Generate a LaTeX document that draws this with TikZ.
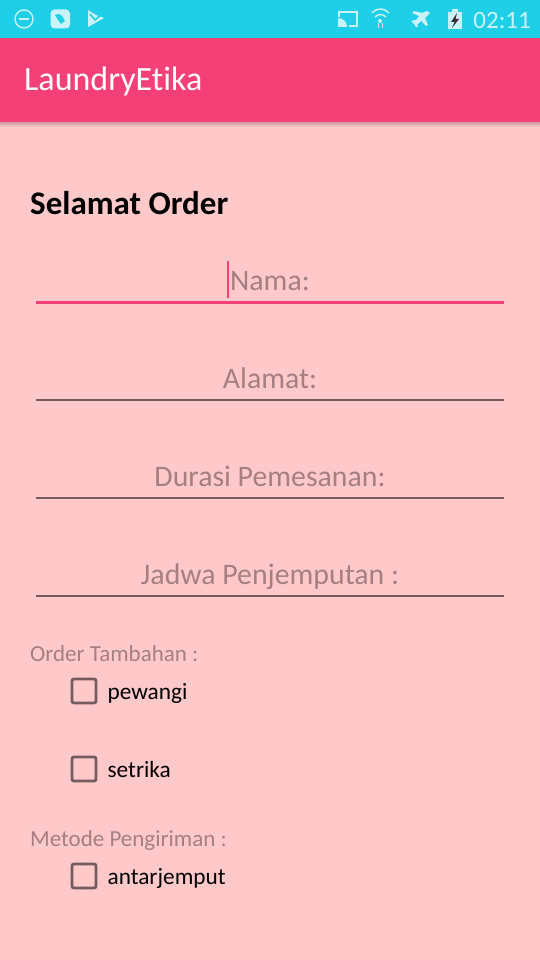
\documentclass[tikz,border=0pt]{standalone}
\usepackage{fontspec}
\setmainfont[Ligatures=NoCommon]{Carlito}
\usetikzlibrary{positioning}
\definecolor{bgpink}{HTML}{FFC9C9}
\definecolor{barcyan}{HTML}{1FCFE8}
\definecolor{barpink}{HTML}{F43F77}
\definecolor{hintgrey}{HTML}{A67F82}
\definecolor{linegrey}{HTML}{755C5E}
\definecolor{iconwhite}{HTML}{C8F3FA}
\tikzstyle{title} = [anchor=west, inner sep=0pt, text=white, font=\fontsize{34}{34}\selectfont]
\tikzstyle{heading} = [anchor=west, inner sep=0pt, text=black, font=\bfseries\fontsize{33}{33}\selectfont]
\tikzstyle{field} = [minimum width=468pt, minimum height=40pt, inner sep=0pt, text height=22pt, text depth=6pt, text=hintgrey, font=\fontsize{29.8}{29.8}\selectfont]
\tikzstyle{caption} = [anchor=west, inner sep=0pt, text height=15pt, text depth=1pt, text=hintgrey, font=\fontsize{23}{23}\selectfont]
\tikzstyle{tick} = [rectangle, rounded corners=2pt, minimum size=24pt, inner sep=0pt, draw=linegrey, line width=2.8pt]
\tikzstyle{choice} = [right=10pt of #1, inner sep=0pt, text height=18pt, text depth=1pt, text=black, font=\fontsize{23.3}{23.3}\selectfont]
\tikzstyle{underline} = [draw=linegrey, line width=1.5pt]
\begin{document}
\begin{tikzpicture}[x=1pt, y=-1pt, node distance=98pt]

\fill[bgpink] (0,0) rectangle (540,960);
\useasboundingbox (0,0) rectangle (540,960);
\fill[barcyan] (0,0) rectangle (540,38);
\shade[top color=black!22!bgpink, bottom color=bgpink] (0,122) rectangle (540,127);
\fill[barpink] (0,38) rectangle (540,122);

% status bar icons
\draw[iconwhite, line width=1.4pt] (24,19) circle (9);
\draw[iconwhite, line width=1.6pt] (19,19) -- (29,19);
\fill[iconwhite, rounded corners=4pt] (50.5,9.5) rectangle (70,28.5);
\fill[barcyan] (55,15) -- (59,14) -- (62,16) -- (65,21) -- (61,24) -- (58,20) -- cycle;
\fill[iconwhite] (88,10) -- (96,15) -- (104,18) -- (90,26) -- (88,27) -- cycle;
\draw[barcyan, line width=1.6pt] (90,14) -- (95,20) -- (102,14);
\draw[iconwhite, line width=1.6pt] (339,17) -- (339,12) -- (357,12) -- (357,26) -- (349,26);
\fill[iconwhite] (338,18) -- (338,27) -- (347,27) .. controls (347,22) and (343,18) .. (338,18) -- cycle;
\draw[iconwhite, line width=1.5pt] (372,13) arc (220:320:11);
\draw[iconwhite, line width=1.5pt] (375,17) arc (220:320:7);
\fill[iconwhite] (380,21) circle (2);
\draw[iconwhite, line width=1pt] (378,23) -- (378,28) (382,23) -- (382,28);
\fill[iconwhite] (427,11) -- (430,13) -- (425,18) -- (428,25) -- (426,26) -- (421,21) -- (417,25) -- (418,27) -- (416,27) -- (413,23) -- (411,21) -- (416,20) -- (419,16) -- (412,13) -- (414,11) -- (422,13) -- cycle;
\fill[iconwhite] (448,12) rectangle (462,29);
\fill[iconwhite] (452,9.5) rectangle (458,12);
\fill[black!80] (457,13) -- (451,22) -- (454.5,22) -- (452,28) -- (459,19) -- (455.5,19) -- cycle;
\node (clock) [anchor=east, inner sep=0pt, text=iconwhite, font=\fontsize{25}{25}\selectfont] at (531,20) {02:11};

% toolbar and heading
\node (appname) [title] at (24,81.5) {LaundryEtika};
\node (greeting) [heading] at (30,203) {Selamat Order};

% input fields
\node (nama) [field] at (270,282) {Nama:\hspace{7pt}};
\node (alamat) [field, below of=nama] {Alamat:};
\node (durasi) [field, below of=alamat] {Durasi Pemesanan:};
\node (jadwal) [field, below of=durasi] {Jadwa Penjemputan :};

\draw[barpink, line width=2.8pt] (nama.south west) -- (nama.south east);
\draw[underline] (alamat.south west) -- (alamat.south east);
\draw[underline] (durasi.south west) -- (durasi.south east);
\draw[underline] (jadwal.south west) -- (jadwal.south east);
\draw[barpink, line width=1.6pt] (228,261) -- (228,298);

% check boxes
\node (tambahan) [caption] at (30,654) {Order Tambahan :};
\node (boxwangi) [tick] at (84,691) {};
\node (pewangi) [choice=boxwangi] {pewangi};
\node (boxsetrika) [tick, below of=boxwangi, node distance=78pt] {};
\node (setrika) [choice=boxsetrika] {setrika};
\node (metode) [caption] at (30,839) {Metode Pengiriman :};
\node (boxjemput) [tick] at (84,876) {};
\node (antarjemput) [choice=boxjemput] {antarjemput};

\end{tikzpicture}
\end{document}
